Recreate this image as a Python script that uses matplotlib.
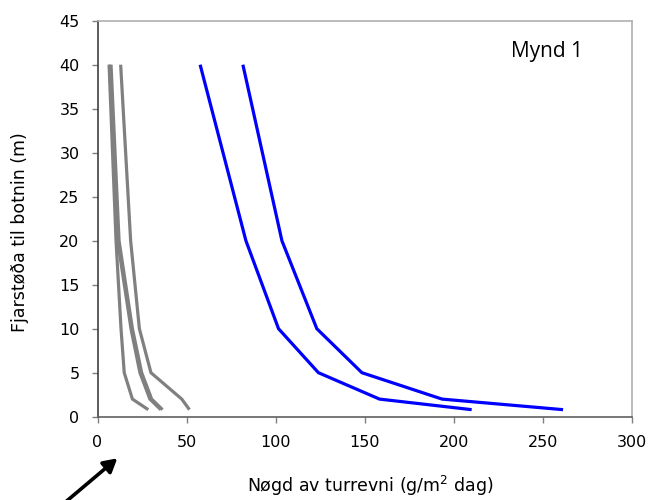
import matplotlib
matplotlib.use("Agg")
import matplotlib.pyplot as plt

depth = [40, 20, 10, 5, 2, 0.8]

gray_series = [
    [6.5, 10.4, 13.2, 15.0, 19.6, 28.5],
    [6.8, 11.3, 18.8, 23.8, 29.4, 35.5],
    [7.6, 12.1, 19.6, 24.8, 30.4, 36.5],
    [13.0, 18.6, 23.5, 30.0, 47.3, 51.6],
]
blue_series = [
    [57.6, 83.3, 101.6, 124.0, 158.3, 210.0],
    [81.6, 103.5, 123.1, 148.4, 193.4, 261.3],
]

xticks = [0, 50, 100, 150, 200, 250, 300]
yticks = [0, 5, 10, 15, 20, 25, 30, 35, 40, 45]

plt.rcParams['font.family'] = ['DejaVu Sans']

fig = plt.figure(figsize=(6.6, 5.0), dpi=100)
ax = fig.add_axes([97.5 / 660, 1 - 416.7 / 500, (632 - 97.5) / 660, (416.7 - 20.7) / 500])

for xs in gray_series:
    ax.plot(xs, depth, color='#808080', lw=2.3, solid_capstyle='butt', solid_joinstyle='miter')
for xs in blue_series:
    ax.plot(xs, depth, color='#0000FF', lw=2.3, solid_capstyle='butt', solid_joinstyle='miter')

ax.set_xlim(0, 300)
ax.set_ylim(0, 45)
ax.set_xticks(xticks)
ax.set_yticks(yticks)
ax.tick_params(direction='out', length=4, width=1, color='#808080', labelsize=11.5)
ax.tick_params(axis='x', pad=9)
ax.tick_params(axis='y', pad=9)

ax.spines['left'].set_color('#404040')
ax.spines['bottom'].set_color('#606060')
ax.spines['top'].set_color('#b0b0b0')
ax.spines['right'].set_color('#b0b0b0')
for s in ax.spines.values():
    s.set_linewidth(1.2)

fig.text(370 / 660, 1 - 486 / 500, 'Nøgd av turrevni (g/m$^2$ dag)', fontsize=12.5,
         ha='center', va='center')
fig.text(20 / 660, 1 - 232 / 500, 'Fjarstøða til botnin (m)', fontsize=12.5,
         ha='center', va='center', rotation=90)

ax.text(547 / 660, 1 - 51 / 500, 'Mynd 1', transform=fig.transFigure,
        fontsize=15, family=['Open Sans', 'DejaVu Sans'], ha='center', va='center')

ax.annotate('', xy=(117.3 / 660, 1 - 458.3 / 500), xycoords='figure fraction',
            xytext=(62 / 660, 1 - 505 / 500), textcoords='figure fraction',
            arrowprops=dict(arrowstyle='-|>,head_length=0.8,head_width=0.45',
                            color='black', lw=2.6, shrinkA=0, shrinkB=0),
            annotation_clip=False)

fig.savefig('out.png', dpi=100)
